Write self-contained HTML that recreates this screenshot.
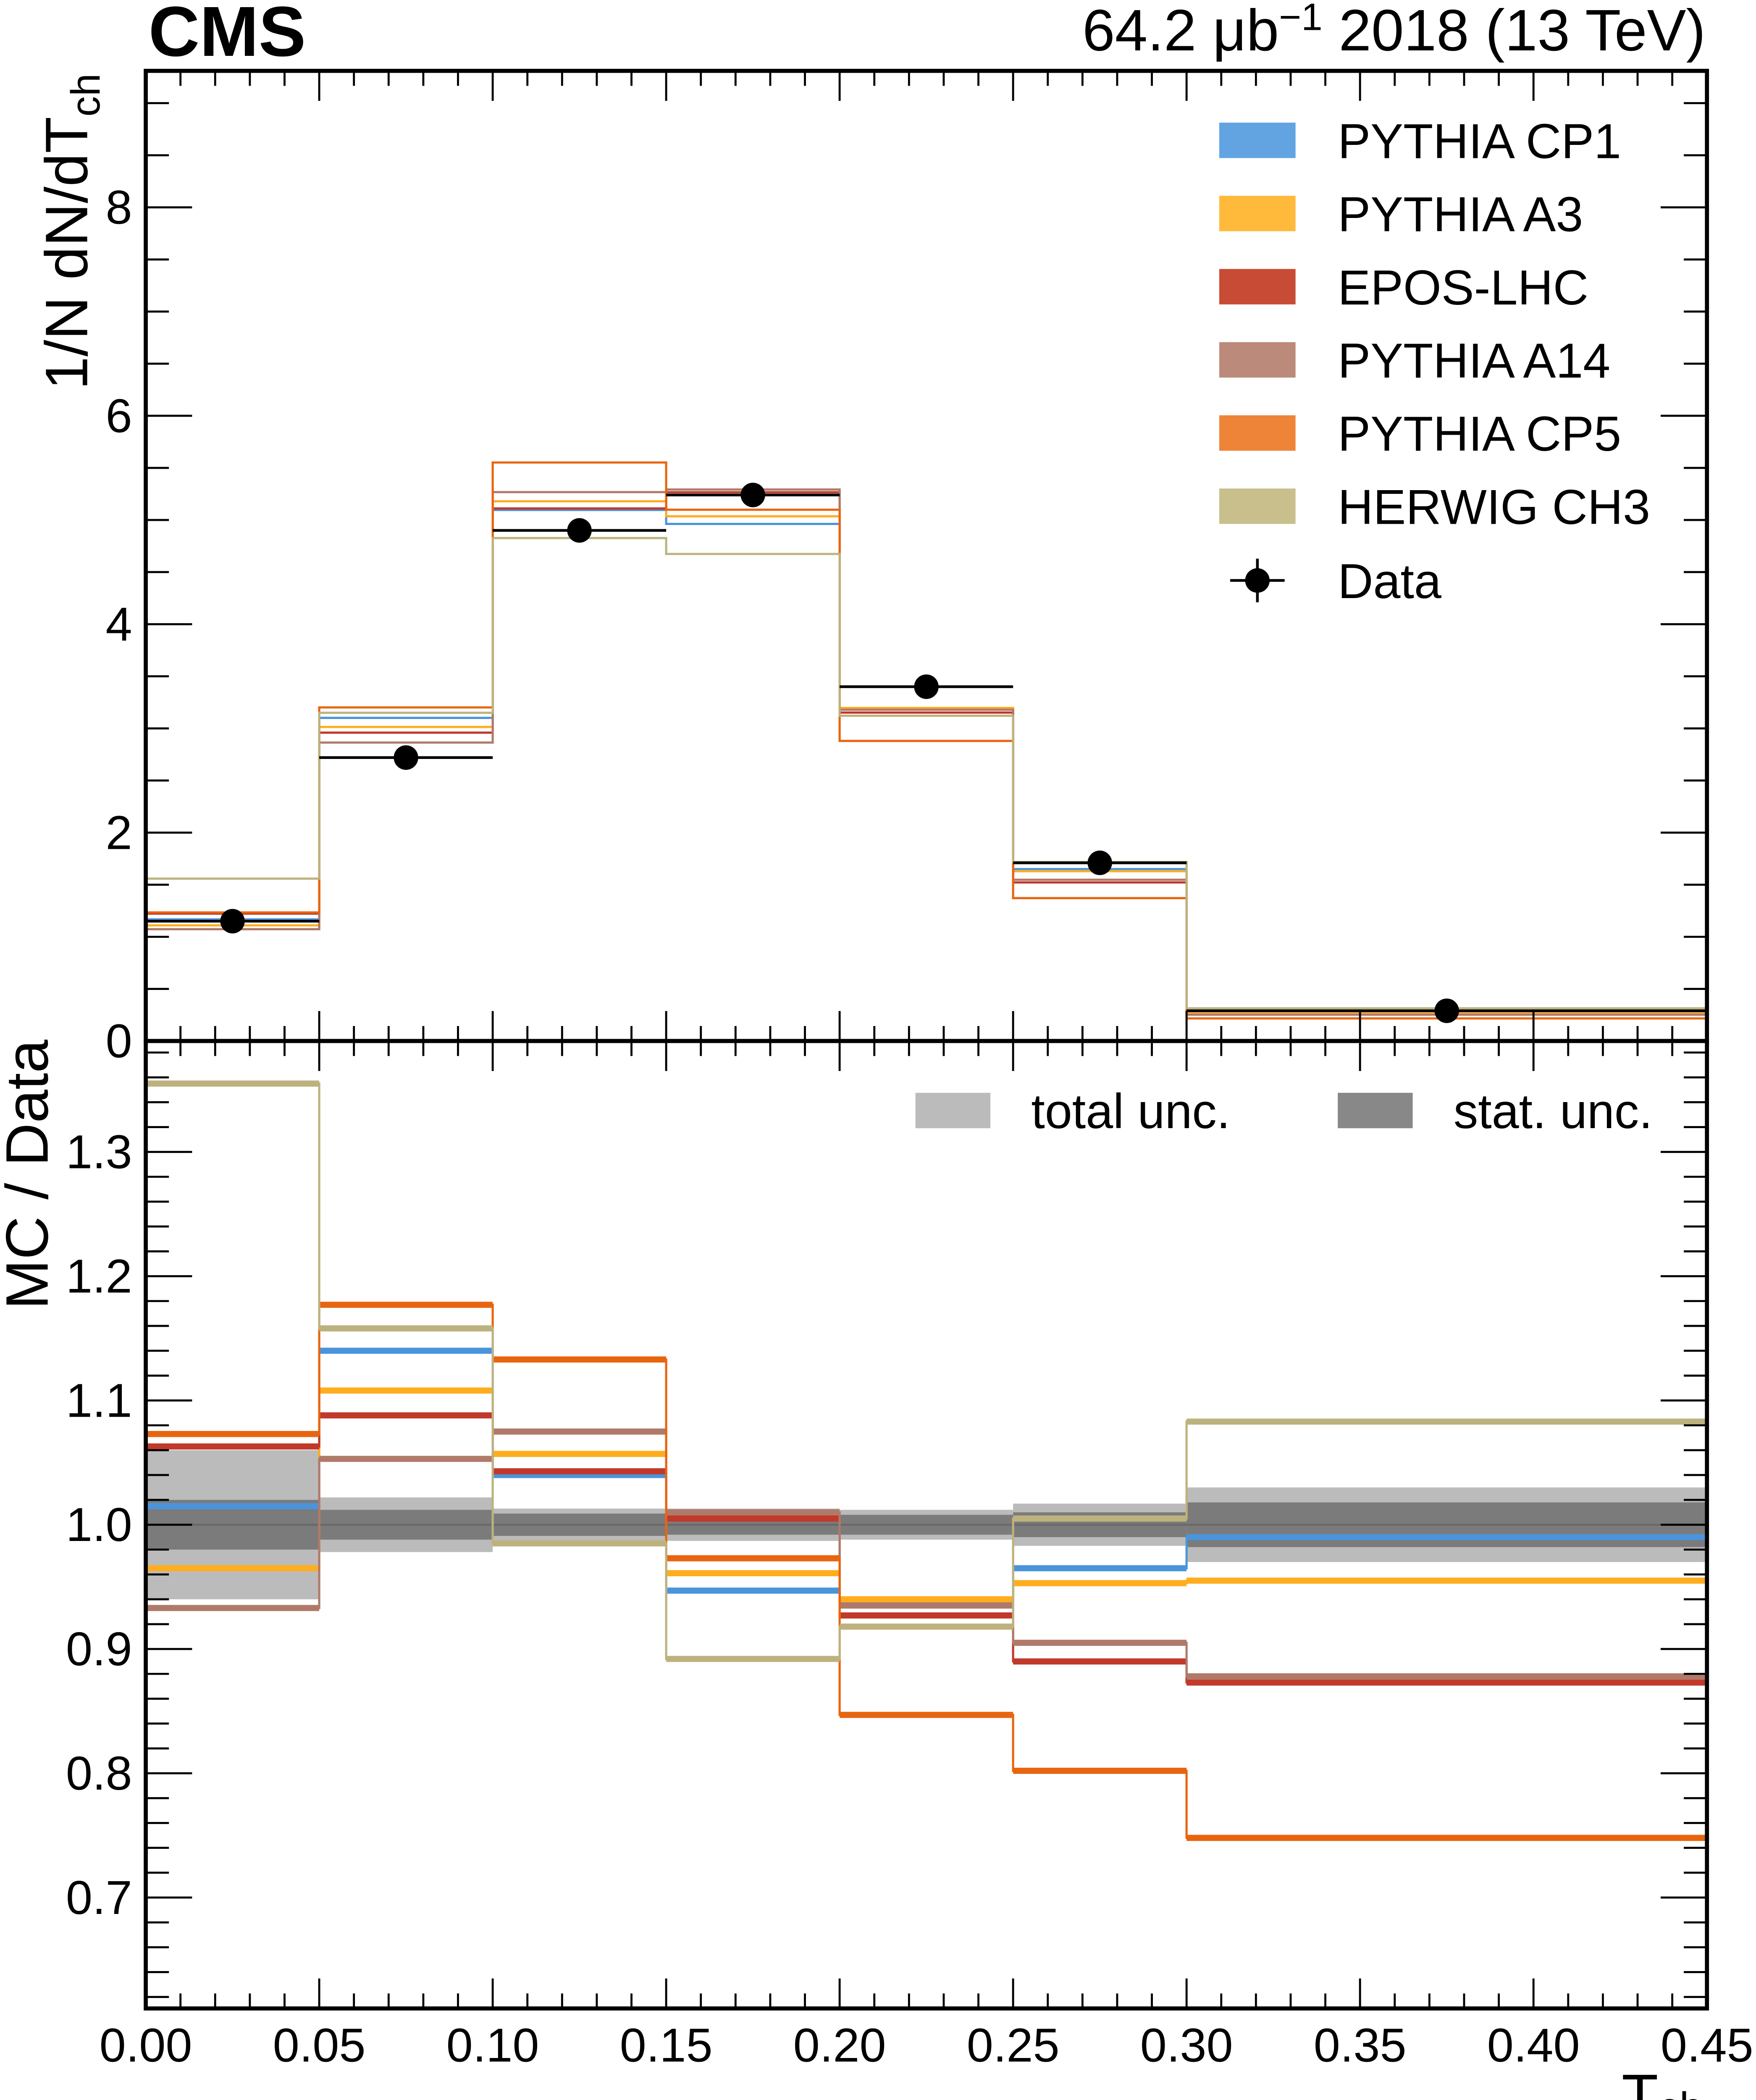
<!DOCTYPE html>
<html><head><meta charset="utf-8"><style>
html,body{margin:0;padding:0;background:#fff;width:4181px;height:5087px;overflow:hidden}
svg{display:block}
text{font-family:"Liberation Sans",Arial,sans-serif;fill:#000}
</style></head><body>
<svg id="chart" xmlns="http://www.w3.org/2000/svg" width="4181" height="5087" viewBox="0 0 1289 1568" preserveAspectRatio="none" overflow="hidden">
<g id="upper"></g>
<g id="lower"></g>
<g id="axes"></g>
<text x="109" y="41" font-size="52" font-weight="bold">CMS</text>
<text x="1252" y="37" font-size="43" text-anchor="end">64.2 μb<tspan dy="-15" font-size="28">−1</tspan><tspan dy="15"> 2018 (13 TeV)</tspan></text>
<text transform="translate(64,170) rotate(-90)" font-size="44" text-anchor="middle">1/N dN/dT<tspan dy="9" font-size="30">ch</tspan></text>
<text transform="translate(35,862) rotate(-90)" font-size="44" text-anchor="middle">MC / Data</text>
<text x="1250" y="1553" font-size="44" text-anchor="end">T<tspan dy="4" font-size="31">ch</tspan></text>
</svg>
<script>
const edges=[0,0.05,0.10,0.15,0.20,0.25,0.30,0.45];
const dataVals=[1.15,2.72,4.90,5.24,3.40,1.71,0.29];
const totUnc=[0.06,0.022,0.013,0.013,0.012,0.017,0.03];
const statUnc=[0.02,0.012,0.009,0.008,0.008,0.01,0.018];
const seriesNames=["PYTHIA CP1","PYTHIA A3","EPOS-LHC","PYTHIA A14","PYTHIA CP5","HERWIG CH3"];
const seriesColors=["#4a94dc","#ffad1f","#c0392b","#b07a6a","#e8650f","#bdb27e"];
const legendColors=["#62a4e2","#ffb93b","#c84b35","#bc8a7a","#ee8438","#c8bf8d"];
const rCP1=[1.015,1.14,1.04,0.947,0.937,0.965,0.99];
const rA3=[0.965,1.108,1.057,0.961,0.94,0.953,0.955];
const rEPOS=[1.063,1.088,1.043,1.005,0.927,0.89,0.873];
const rA14=[0.933,1.053,1.075,1.01,0.935,0.905,0.878];
const rCP5=[1.073,1.177,1.133,0.973,0.847,0.802,0.748];
const rHER=[1.355,1.158,0.985,0.892,0.918,1.005,1.083];
const ratios=[rCP1,rA3,rEPOS,rA14,rCP5,rHER];
const upTicks=[0,2,4,6,8];
const loTicks=[0.7,0.8,0.9,1.0,1.1,1.2,1.3];
const xTicks=[0,0.05,0.10,0.15,0.20,0.25,0.30,0.35,0.40,0.45];

const L=107,R=1253,UT=52,UB=764,LB=1474;
const X=v=>L+(R-L)*v/0.45;
const YU=v=>UB-(UB-UT)*v/9.31;
const YL=v=>1119-(v-1)*912;
const NS="http://www.w3.org/2000/svg";
function mk(tag,attrs,parent){const e=document.createElementNS(NS,tag);for(const k in attrs)e.setAttribute(k,attrs[k]);parent.appendChild(e);return e;}
const up=document.getElementById('upper'),lo=document.getElementById('lower'),ax=document.getElementById('axes'),svg=document.getElementById('chart');

for(let i=0;i<7;i++){
 const b=mk('rect',{x:X(edges[i]),y:YL(1+totUnc[i]),width:X(edges[i+1])-X(edges[i]),height:YL(1-totUnc[i])-YL(1+totUnc[i]),fill:"#bbbbbb"},lo);
 
 
 const s=mk('rect',{x:X(edges[i]),y:YL(1+statUnc[i]),width:X(edges[i+1])-X(edges[i]),height:YL(1-statUnc[i])-YL(1+statUnc[i]),fill:"#7b7b7b"},lo);
 
 
}
mk('line',{x1:L,x2:R,y1:YL(1),y2:YL(1),stroke:"#6a6a6a","stroke-width":1.5},lo);

function stepPath(vals,Y){let d="";for(let i=0;i<7;i++){const y=Y(vals[i]);d+=(i===0?"M":"L")+X(edges[i])+","+y+"L"+X(edges[i+1])+","+y;}return d;}
for(let s=0;s<6;s++){
 const mc=dataVals.map((d,i)=>d*ratios[s][i]);
 const p=mk('path',{d:stepPath(mc,YU),fill:"none",stroke:seriesColors[s],"stroke-width":1.6},up);
 
 
 const q=mk('path',{d:stepPath(ratios[s],YL),fill:"none",stroke:seriesColors[s],"stroke-width":1.6},lo);
 
 
 for(let i=0;i<7;i++){
  const h=mk('line',{x1:X(edges[i]),x2:X(edges[i+1]),y1:YL(ratios[s][i]),y2:YL(ratios[s][i]),stroke:seriesColors[s],"stroke-width":4.5},lo);
  
  
 }
}
for(let i=0;i<7;i++){
 const cx=(X(edges[i])+X(edges[i+1]))/2,y=YU(dataVals[i]);
 mk('line',{x1:X(edges[i]),x2:X(edges[i+1]),y1:y,y2:y,stroke:"#000","stroke-width":2},up);
 const c=mk('circle',{cx:cx,cy:y,r:9,fill:"#000"},up);
 
 
}
mk('rect',{x:L,y:UT,width:R-L,height:UB-UT,fill:"none",stroke:"#000","stroke-width":3},ax);
mk('rect',{x:L,y:UB,width:R-L,height:LB-UB,fill:"none",stroke:"#000","stroke-width":3},ax);
for(let k=0;k<=45;k++){
 const x=X(k*0.01),maj=k%5===0,len=maj?22:11;
 [[UT,1],[UB,-1],[UB,1],[LB,-1]].forEach(([y0,dir])=>mk('line',{x1:x,x2:x,y1:y0,y2:y0+dir*len,stroke:"#000","stroke-width":1.5},ax));
}
xTicks.forEach(v=>{const t=mk('text',{x:X(v),y:1513,"font-size":35,"text-anchor":"middle"},svg);t.textContent=v.toFixed(2);
 
 });
for(let k=0;k*0.5<=9.3;k++){const y=YU(k*0.5),len=k%4===0?34:17;
 mk('line',{x1:L,x2:L+len,y1:y,y2:y,stroke:"#000","stroke-width":1.5},ax);
 mk('line',{x1:R,x2:R-len,y1:y,y2:y,stroke:"#000","stroke-width":1.5},ax);}
upTicks.forEach(v=>{const t=mk('text',{x:97,y:YU(v)+12,"font-size":35,"text-anchor":"end"},svg);t.textContent=v;
 
 });
for(let k=62;k<=138;k+=2){const y=YL(k/100),len=k%10===0?34:17;
 mk('line',{x1:L,x2:L+len,y1:y,y2:y,stroke:"#000","stroke-width":1.5},ax);
 mk('line',{x1:R,x2:R-len,y1:y,y2:y,stroke:"#000","stroke-width":1.5},ax);}
loTicks.forEach(v=>{const t=mk('text',{x:97,y:YL(v)+12,"font-size":35,"text-anchor":"end"},svg);t.textContent=v.toFixed(1);
 
 });
for(let s=0;s<6;s++){
 const y=103+s*53.7;
 const r=mk('rect',{x:895,y:y-13,width:56,height:26,fill:legendColors[s]},svg);
 
 
 const t=mk('text',{x:982,y:y+13,"font-size":36},svg);t.textContent=seriesNames[s];
 
 
}
mk('line',{x1:923,x2:923,y1:410,y2:442,stroke:"#000","stroke-width":2},svg);
mk('line',{x1:903,x2:943,y1:426,y2:426,stroke:"#000","stroke-width":2},svg);
mk('circle',{cx:923,cy:426,r:9,fill:"#000"},svg);
const dt=mk('text',{x:982,y:439,"font-size":36},svg);dt.textContent="Data";


mk('rect',{x:672,y:802,width:55,height:26,fill:"#bbbbbb"},svg);
const t1=mk('text',{x:757,y:828,"font-size":36},svg);t1.textContent="total unc.";


mk('rect',{x:982,y:802,width:55,height:26,fill:"#888888"},svg);
const t2=mk('text',{x:1067,y:828,"font-size":36},svg);t2.textContent="stat. unc.";


</script>
</body></html>
